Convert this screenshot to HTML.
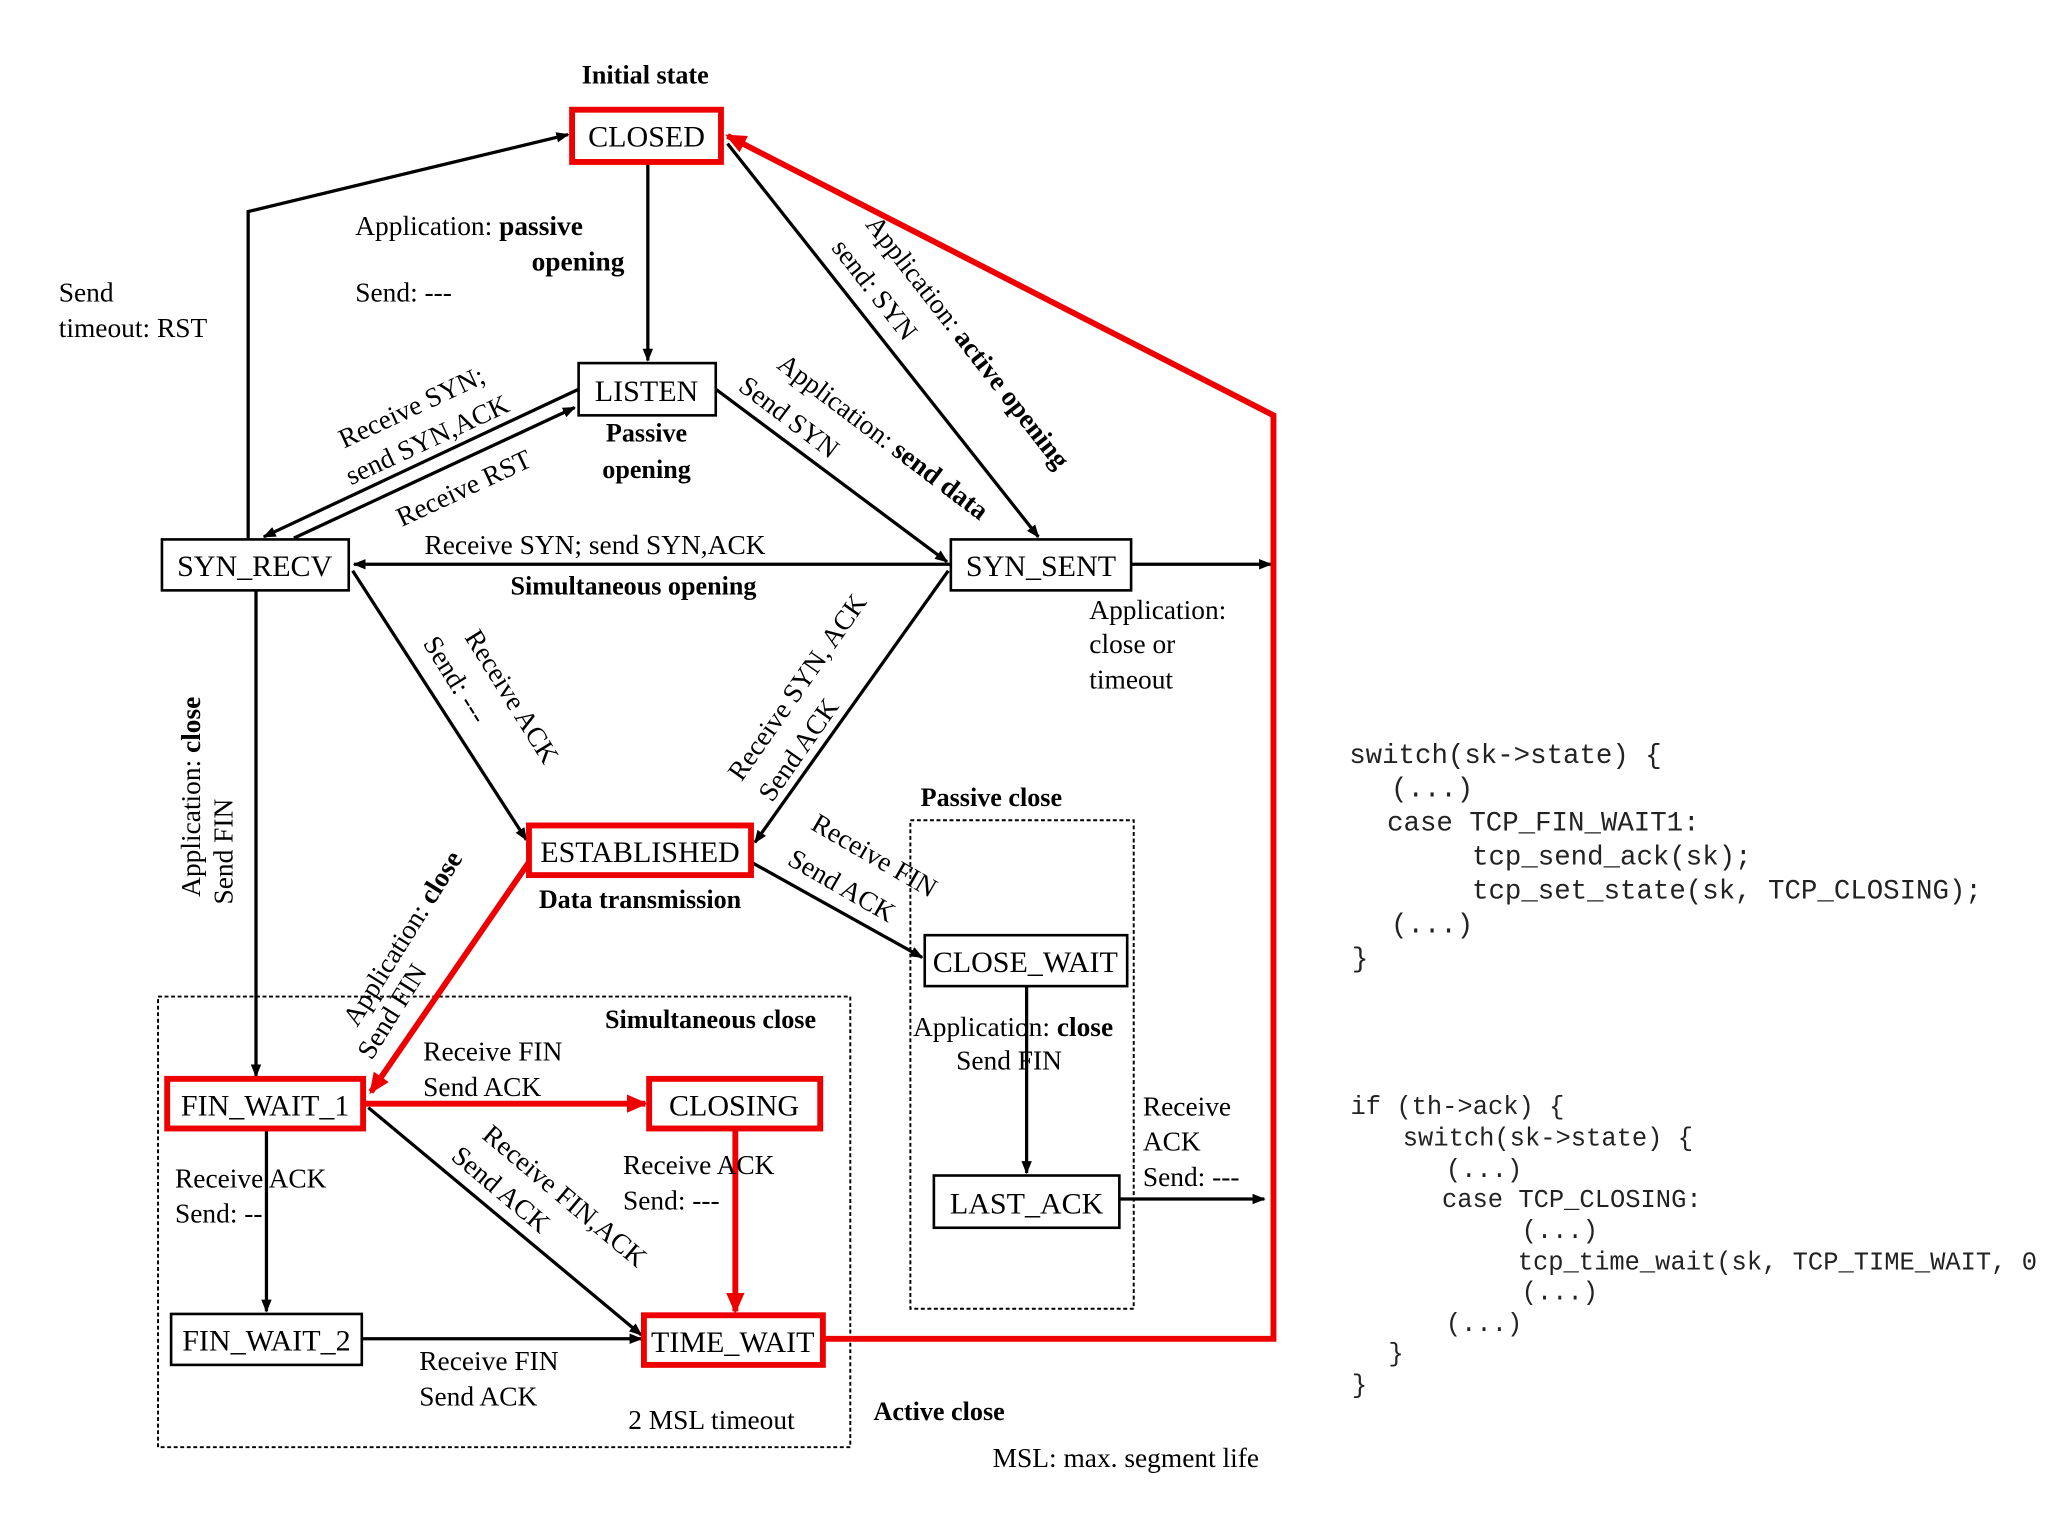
<!DOCTYPE html>
<html><head><meta charset="utf-8"><style>
html,body{margin:0;padding:0;background:#fff;}
svg{display:block}
text{font-family:"Liberation Serif",serif;fill:#000}
.n{font-size:23px}
.l{font-size:21px}
.b{font-size:20px;font-weight:bold}
.c text{font-family:"Liberation Mono",monospace;fill:#222}
</style></head><body>
<svg width="2048" height="1536" viewBox="0 0 1568 1176" preserveAspectRatio="none" xmlns="http://www.w3.org/2000/svg">
<defs>
<marker id="a" markerWidth="10" markerHeight="8" refX="9" refY="4" orient="auto" markerUnits="userSpaceOnUse"><path d="M0,0 L10,4 L0,8 z" fill="#000"/></marker>
<marker id="r" markerWidth="16" markerHeight="14" refX="14" refY="7" orient="auto" markerUnits="userSpaceOnUse"><path d="M0,0 L16,7 L0,14 z" fill="#e00"/></marker>
</defs>
<g stroke="#000" stroke-width="1.5" fill="none" stroke-dasharray="3,2">
<rect x="121" y="763" width="530" height="345"/>
<rect x="697" y="628" width="171" height="374"/>
</g>
<g stroke="#000" stroke-width="2.5" fill="none" marker-end="url(#a)">
<line x1="496" y1="124" x2="496" y2="276"/>
<polyline points="190,413 190,162 435,103"/>
<line x1="196" y1="452" x2="196" y2="824"/>
<line x1="443" y1="298" x2="202" y2="411"/>
<line x1="225" y1="412" x2="440" y2="312"/>
<line x1="548" y1="298" x2="725" y2="430"/>
<line x1="557" y1="110" x2="795" y2="411"/>
<line x1="728" y1="432" x2="271" y2="432"/>
<line x1="270" y1="437" x2="403" y2="643"/>
<line x1="726" y1="437" x2="578" y2="645"/>
<line x1="575" y1="660" x2="706" y2="733"/>
<line x1="786" y1="755" x2="786" y2="898"/>
<line x1="282" y1="848" x2="491" y2="1022"/>
<line x1="204" y1="864" x2="204" y2="1004"/>
<line x1="277" y1="1025" x2="491" y2="1025"/>
<line x1="866" y1="432" x2="973" y2="432"/>
<line x1="857" y1="918" x2="968" y2="918"/>
</g>
<g stroke="#e00" stroke-width="4.5" fill="none">
<polyline points="630,1025 975,1025 975,318 557,104" marker-end="url(#r)"/>
<line x1="405" y1="660" x2="284" y2="836" marker-end="url(#r)"/>
<line x1="278" y1="845" x2="494" y2="845" marker-end="url(#r)"/>
<line x1="563" y1="864" x2="563" y2="1004" marker-end="url(#r)"/>
</g>
<g fill="#fff">
<rect x="438" y="84" width="114" height="40" stroke="#e00" stroke-width="4.5"/>
<rect x="443" y="278" width="105" height="40" stroke="#000" stroke-width="2"/>
<rect x="124" y="413" width="143" height="39" stroke="#000" stroke-width="2"/>
<rect x="728" y="413" width="138" height="39" stroke="#000" stroke-width="2"/>
<rect x="405" y="632" width="170" height="38" stroke="#e00" stroke-width="4.5"/>
<rect x="708" y="716" width="155" height="39" stroke="#000" stroke-width="2"/>
<rect x="128" y="826" width="150" height="38" stroke="#e00" stroke-width="4.5"/>
<rect x="497" y="826" width="131" height="38" stroke="#e00" stroke-width="4.5"/>
<rect x="715" y="900" width="142" height="40" stroke="#000" stroke-width="2"/>
<rect x="131" y="1006" width="146" height="39" stroke="#000" stroke-width="2"/>
<rect x="493" y="1007" width="137" height="38" stroke="#e00" stroke-width="4.5"/>
</g>
<g class="n" text-anchor="middle">
<text x="495" y="112">CLOSED</text>
<text x="495" y="307">LISTEN</text>
<text x="195" y="441">SYN_RECV</text>
<text x="797" y="441">SYN_SENT</text>
<text x="490" y="660">ESTABLISHED</text>
<text x="785" y="744">CLOSE_WAIT</text>
<text x="203" y="854">FIN_WAIT_1</text>
<text x="562" y="854">CLOSING</text>
<text x="786" y="929">LAST_ACK</text>
<text x="204" y="1034">FIN_WAIT_2</text>
<text x="561" y="1035">TIME_WAIT</text>
</g>
<g class="b" text-anchor="middle">
<text x="494" y="64">Initial state</text>
<text x="495" y="338">Passive</text>
<text x="495" y="366">opening</text>
<text x="485" y="455">Simultaneous opening</text>
<text x="490" y="695">Data transmission</text>
<text x="759" y="617">Passive close</text>
<text x="544" y="787">Simultaneous close</text>
<text x="719" y="1087">Active close</text>
</g>
<g class="l">
<text x="272" y="180">Application: <tspan font-weight="bold">passive</tspan></text>
<text x="407" y="207" font-weight="bold">opening</text>
<text x="272" y="231">Send: ---</text>
<text x="45" y="231">Send</text>
<text x="45" y="258">timeout: RST</text>
<text x="325" y="424">Receive SYN; send SYN,ACK</text>
<text x="834" y="474">Application:</text>
<text x="834" y="500">close or</text>
<text x="834" y="527">timeout</text>
<text x="324" y="812">Receive FIN</text>
<text x="324" y="839">Send ACK</text>
<text x="134" y="909">Receive ACK</text>
<text x="134" y="936">Send: --</text>
<text x="477" y="899">Receive ACK</text>
<text x="477" y="926">Send: ---</text>
<text x="321" y="1049">Receive FIN</text>
<text x="321" y="1076">Send ACK</text>
<text x="481" y="1094">2 MSL timeout</text>
<text x="699" y="793">Application: <tspan font-weight="bold">close</tspan></text>
<text x="732" y="819">Send FIN</text>
<text x="875" y="854">Receive</text>
<text x="875" y="881">ACK</text>
<text x="875" y="908">Send: ---</text>
<text x="760" y="1123">MSL: max. segment life</text>
</g>
<g class="l" text-anchor="middle">
<text transform="translate(318,318) rotate(-25)">Receive SYN;</text>
<text transform="translate(330,343) rotate(-25)">send SYN,ACK</text>
<text transform="translate(358,380) rotate(-25)">Receive RST</text>
<text transform="translate(672,340) rotate(37)">Application: <tspan font-weight="bold">send data</tspan></text>
<text transform="translate(600,325) rotate(37)">Send SYN</text>
<text transform="translate(386,537) rotate(58)">Receive ACK</text>
<text transform="translate(343,524) rotate(58)">Send: ---</text>
<text transform="translate(616,530) rotate(-55)">Receive SYN, ACK</text>
<text transform="translate(617,578) rotate(-55)">Send ACK</text>
<text transform="translate(666,661) rotate(30)">Receive FIN</text>
<text transform="translate(641,684) rotate(30)">Send ACK</text>
<text transform="translate(314,722) rotate(-58)">Application: <tspan font-weight="bold">close</tspan></text>
<text transform="translate(306,778) rotate(-58)">Send FIN</text>
<text transform="translate(153,610) rotate(-90)">Application: <tspan font-weight="bold">close</tspan></text>
<text transform="translate(178,652) rotate(-90)">Send FIN</text>
<text transform="translate(428,921) rotate(40)">Receive FIN,ACK</text>
<text transform="translate(379,916) rotate(40)">Send ACK</text>
</g>
<g class="l">
<text transform="translate(662,172) rotate(52)">Application: <tspan font-weight="bold">active opening</tspan></text>
<text transform="translate(636,190) rotate(52)">send: SYN</text>
</g>
<g class="c" font-size="21">
<text x="1033" y="584">switch(sk-&gt;state) {</text>
<text x="1065" y="610">(...)</text>
<text x="1062" y="636">case TCP_FIN_WAIT1:</text>
<text x="1127" y="662">tcp_send_ack(sk);</text>
<text x="1127" y="688">tcp_set_state(sk, TCP_CLOSING);</text>
<text x="1065" y="714">(...)</text>
<text x="1035" y="740">}</text>
</g>
<g class="c" font-size="19.5">
<text x="1034" y="853">if (th-&gt;ack) {</text>
<text x="1074" y="877">switch(sk-&gt;state) {</text>
<text x="1107" y="901">(...)</text>
<text x="1104" y="924">case TCP_CLOSING:</text>
<text x="1165" y="948">(...)</text>
<text x="1162" y="972">tcp_time_wait(sk, TCP_TIME_WAIT, 0</text>
<text x="1165" y="995">(...)</text>
<text x="1107" y="1019">(...)</text>
<text x="1063" y="1042">}</text>
<text x="1035" y="1066">}</text>
</g>
</svg>
</body></html>
